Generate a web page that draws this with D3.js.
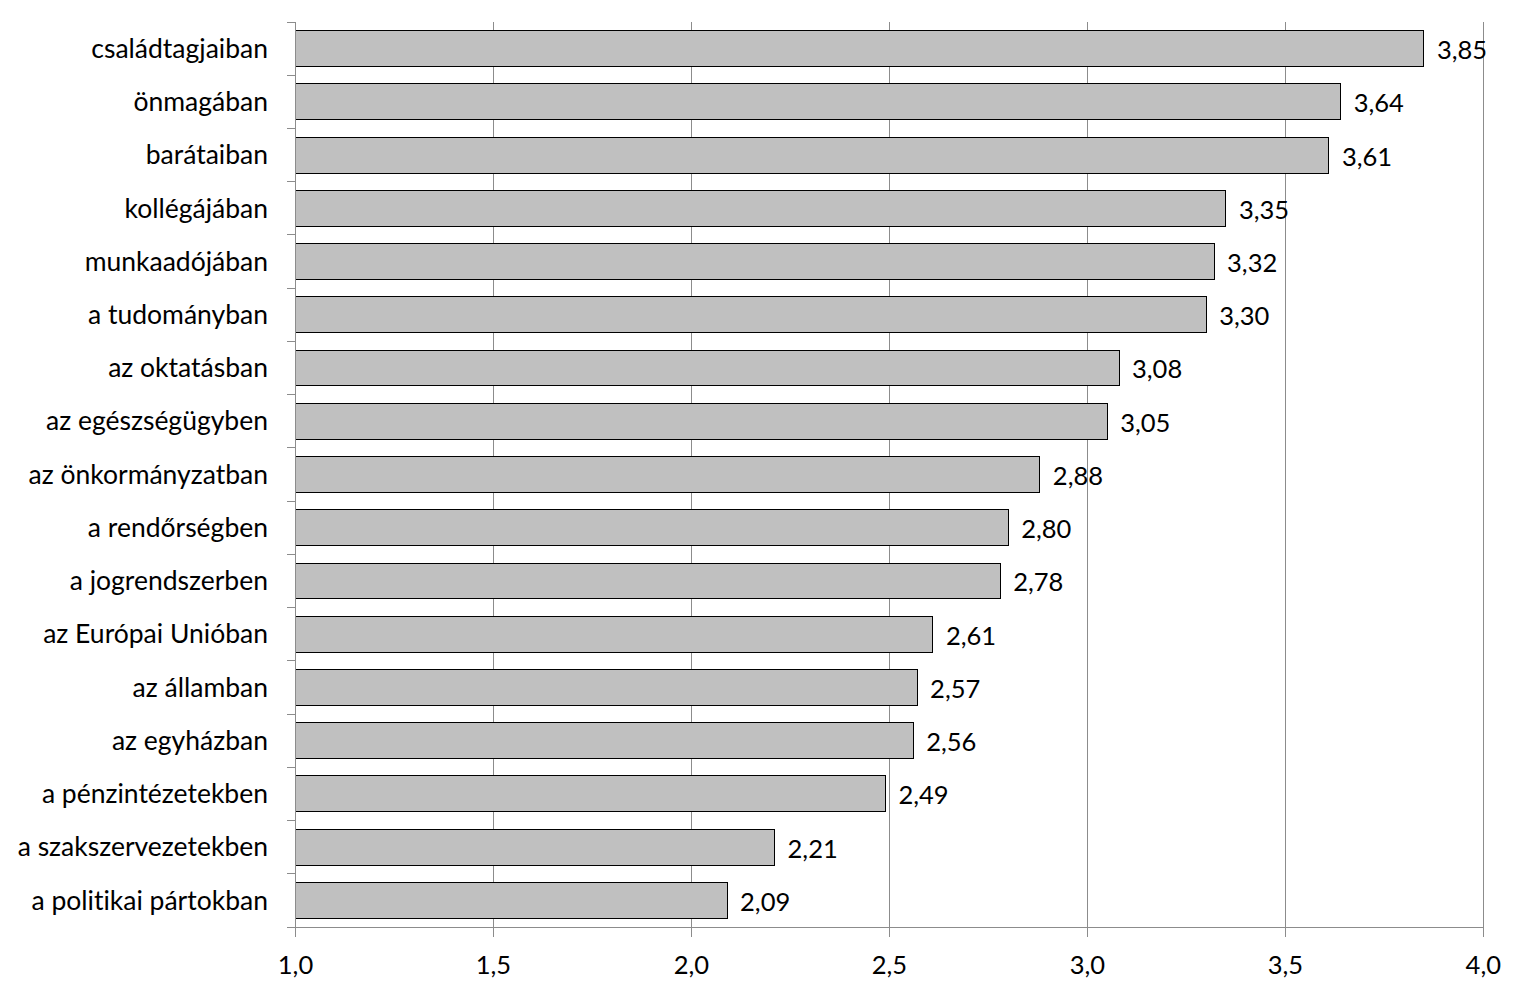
<!DOCTYPE html>
<html><head><meta charset="utf-8">
<script src="https://cdn.jsdelivr.net/npm/d3@7"></script>
<style>body{margin:0;background:#fff}svg text{font-family:Lato,"Open Sans",sans-serif;fill:#000;font-variant-ligatures:none;font-feature-settings:"liga" 0}</style>
</head><body><svg id="c" width="1525" height="996"></svg>
<script>
const categories = ["családtagjaiban","önmagában","barátaiban","kollégájában","munkaadójában","a tudományban","az oktatásban","az egészségügyben","az önkormányzatban","a rendőrségben","a jogrendszerben","az Európai Unióban","az államban","az egyházban","a pénzintézetekben","a szakszervezetekben","a politikai pártokban"];
const values = [3.85,3.64,3.61,3.35,3.32,3.30,3.08,3.05,2.88,2.80,2.78,2.61,2.57,2.56,2.49,2.21,2.09];
const xTicks = [1.0,1.5,2.0,2.5,3.0,3.5,4.0];

const svg = d3.select("#c");
const L = 295.5, R = 1483.3, T = 22, B = 927;
const x = d3.scaleLinear().domain([1,4]).range([L,R]);
const y = d3.scaleBand().domain(categories).range([T,B]).paddingInner(0.325).paddingOuter(0.1625);
const fmt = v => d3.format(".2f")(v).replace(".", ",");
const fmt1 = v => d3.format(".1f")(v).replace(".", ",");

// grid
svg.append("g").selectAll("line").data(xTicks.slice(1)).join("line")
  .attr("x1", d=>x(d)).attr("x2", d=>x(d)).attr("y1", T).attr("y2", B)
  .attr("stroke", "#8c8c8c").attr("stroke-width", 1).attr("shape-rendering","crispEdges");

// bars
svg.append("g").selectAll("rect").data(values).join("rect")
  .attr("x", x(1)).attr("y", (d,i)=>y(categories[i]))
  .attr("width", d=>x(d)-x(1)).attr("height", y.bandwidth())
  .attr("fill", "#c0c0c0").attr("stroke", "#000").attr("stroke-width", 1).attr("shape-rendering","crispEdges");

// value labels
svg.append("g").selectAll("text").data(values).join("text")
  .attr("x", d=>x(d)+13).attr("y", (d,i)=>y(categories[i])+y.bandwidth()/2+4)
  .attr("dominant-baseline","middle").attr("font-size", 25.5).text(d=>fmt(d));

// y axis
const yStep = (B-T)/categories.length;
const gy = svg.append("g");
gy.append("line").attr("x1",L).attr("x2",L).attr("y1",T).attr("y2",B).attr("stroke","#8c8c8c").attr("shape-rendering","crispEdges");
gy.selectAll("line.t").data(d3.range(categories.length+1)).join("line").attr("class","t")
  .attr("x1",L-9).attr("x2",L).attr("y1",i=>T+i*yStep).attr("y2",i=>T+i*yStep)
  .attr("stroke","#8c8c8c").attr("shape-rendering","crispEdges");
gy.selectAll("text").data(categories).join("text")
  .attr("x", 268).attr("y", d=>y(d)+y.bandwidth()/2+2.5).attr("text-anchor","end")
  .attr("dominant-baseline","middle").attr("font-size", 26.5).text(d=>d);

// x axis
const gx = svg.append("g");
gx.append("line").attr("x1",L).attr("x2",R).attr("y1",B).attr("y2",B).attr("stroke","#8c8c8c").attr("shape-rendering","crispEdges");
gx.selectAll("line.t").data(xTicks).join("line").attr("class","t")
  .attr("x1",d=>x(d)).attr("x2",d=>x(d)).attr("y1",B).attr("y2",B+10)
  .attr("stroke","#8c8c8c").attr("shape-rendering","crispEdges");
gx.selectAll("text").data(xTicks).join("text")
  .attr("x", d=>x(d)).attr("y", 968).attr("text-anchor","middle")
  .attr("dominant-baseline","middle").attr("font-size", 25.5).text(d=>fmt1(d));
</script></body></html>
